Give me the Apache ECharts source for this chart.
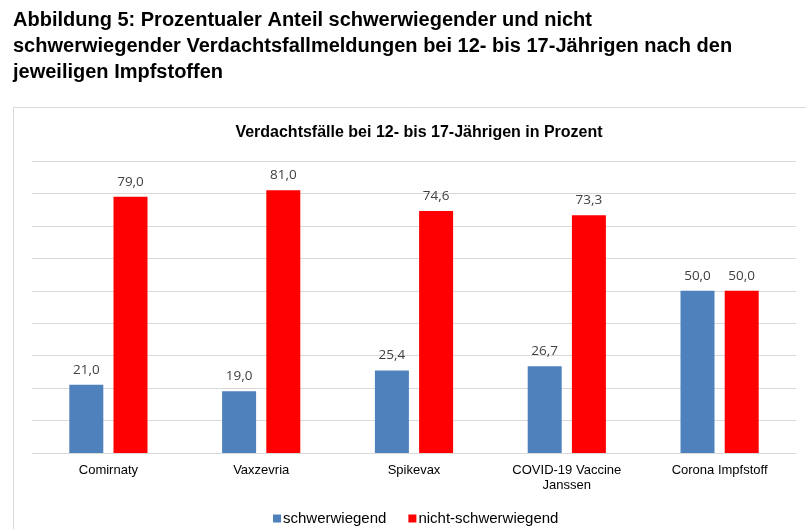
<!DOCTYPE html>
<html>
<head>
<meta charset="utf-8">
<script src="https://cdn.jsdelivr.net/npm/echarts@6/dist/echarts.min.js"></script>
<style>
  html, body { margin: 0; padding: 0; background: #fff; }
  #chart { width: 806px; height: 529px; }
</style>
</head>
<body>
<div id="chart"></div>
<script>
// data
var categories = ["Comirnaty", "Vaxzevria", "Spikevax", "COVID-19 Vaccine\nJanssen", "Corona Impfstoff"];
var schwerwiegend = [21.0, 19.0, 25.4, 26.7, 50.0];
var nichtSchwerwiegend = [79.0, 81.0, 74.6, 73.3, 50.0];
var seriesNames = ["schwerwiegend", "nicht-schwerwiegend"];

var myChart = echarts.init(document.getElementById("chart"));

function fmt(p) {
  return p.value.toFixed(1).replace(".", ",");
}

var valueLabel = {
  show: true,
  position: "top",
  distance: 8,
  formatter: fmt,
  fontFamily: "'Open Sans', 'DejaVu Sans', sans-serif",
  fontSize: 13.5,
  color: "#404040",
};

myChart.setOption({
  animation: false,
  title: [
    {
      text: "Abbildung 5: Prozentualer Anteil schwerwiegender und nicht\nschwerwiegender Verdachtsfallmeldungen bei 12- bis 17-Jährigen nach den\njeweiligen Impfstoffen",
      left: 8,
      top: 2,
      textStyle: {
        fontFamily: "'Liberation Sans', Arial",
        fontWeight: "bold",
        fontSize: 20,
        lineHeight: 26,
        color: "#000",
      },
    },
    {
      text: "Verdachtsfälle bei 12- bis 17-Jährigen in Prozent",
      left: 414,
      textAlign: "center",
      top: 120,
      textStyle: {
        fontFamily: "'Liberation Sans', Arial",
        fontWeight: "bold",
        fontSize: 16,
        color: "#000",
      },
    },
  ],
  graphic: [
    {
      type: "rect",
      shape: { x: 13.5, y: 107.5, width: 820, height: 440 },
      style: { fill: "none", stroke: "#d9d9d9", lineWidth: 1 },
      z: -1,
    },
  ],
  legend: {
    top: 506,
    left: 268,
    itemWidth: 8,
    itemHeight: 8,
    itemGap: 22,
    icon: "rect",
    textStyle: {
      fontFamily: "'Liberation Sans', Arial",
      fontSize: 15,
      color: "#000",
      padding: [0, 0, 0, -3],
    },
    data: seriesNames,
  },
  grid: {
    left: 32,
    right: 10,
    top: 161,
    bottom: 76,
  },
  xAxis: {
    type: "category",
    data: categories,
    axisTick: { show: false },
    axisLine: { lineStyle: { color: "#d9d9d9", width: 1 } },
    axisLabel: {
      fontFamily: "'Liberation Sans', Arial",
      fontSize: 13,
      color: "#000",
      margin: 10,
      lineHeight: 15,
    },
  },
  yAxis: {
    type: "value",
    min: 0,
    max: 90,
    interval: 10,
    axisLabel: { show: false },
    axisLine: { show: false },
    axisTick: { show: false },
    splitLine: { lineStyle: { color: "#d9d9d9", width: 1 } },
  },
  series: [
    {
      name: seriesNames[0],
      type: "bar",
      data: schwerwiegend,
      barWidth: 34,
      barGap: "30%",
      itemStyle: { color: "#4F81BD" },
      label: valueLabel,
    },
    {
      name: seriesNames[1],
      type: "bar",
      data: nichtSchwerwiegend,
      barWidth: 34,
      barGap: "30%",
      itemStyle: { color: "#FF0000" },
      label: valueLabel,
    },
  ],
});
</script>
</body>
</html>
